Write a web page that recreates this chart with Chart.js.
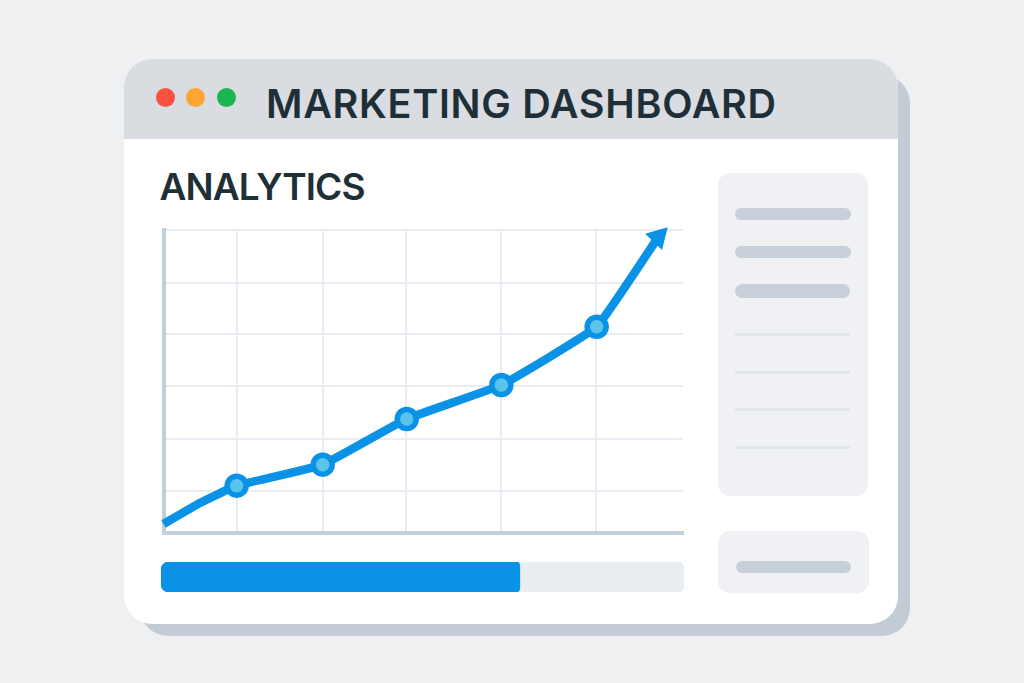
<!DOCTYPE html>
<html>
<head>
<meta charset="utf-8">
<title>Marketing Dashboard</title>
<script src="https://cdn.jsdelivr.net/npm/chart.js@4/dist/chart.umd.min.js"></script>
<style>
  html, body { margin: 0; padding: 0; }
  body { width: 1024px; height: 683px; background: #eff0f2; position: relative; overflow: hidden; font-family: Inter, sans-serif; }
  .box { position: absolute; }
  .shadow { left: 140px; top: 75px; width: 770px; height: 561px; background: #c3ccd5; border-radius: 28px; }
  .win { left: 124px; top: 59px; width: 774px; height: 565px; background: #fff; border-radius: 28px; overflow: hidden; }
  .head { left: 0; top: 0; width: 774px; height: 80px; background: #d9dce1; }
  .dot { width: 19px; height: 19px; border-radius: 50%; top: 88px; }
  .title { left: 266px; top: 80px; font-size: 39.5px; line-height: 48px; font-weight: 600; color: #1f2f38; letter-spacing: 0.7px; white-space: nowrap; }
  .sub { left: 159.5px; top: 165px; font-size: 37px; line-height: 44px; font-weight: 600; color: #1f2f38; letter-spacing: -0.9px; white-space: nowrap; }
  .panel { background: #f0f1f5; border-radius: 12px; }
  .pill { background: #c7d0d9; border-radius: 7px; }
  .thin { background: #e1e6eb; height: 2.5px; left: 735px; width: 115px; }
  canvas { position: absolute; }
</style>
</head>
<body>
<div class="box shadow"></div>
<div class="box win"><div class="box head"></div></div>
<div class="box dot" style="left:156px;background:#fb5140"></div>
<div class="box dot" style="left:186px;background:#fca532"></div>
<div class="box dot" style="left:217px;background:#1bb551"></div>
<div class="box title">MARKETING DASHBOARD</div>
<div class="box sub">ANALYTICS</div>

<div class="box panel" style="left:718px;top:173px;width:150px;height:323px"></div>
<div class="box pill" style="left:735px;top:208px;width:116px;height:12px"></div>
<div class="box pill" style="left:735px;top:246px;width:116px;height:12px"></div>
<div class="box pill" style="left:735px;top:284px;width:115px;height:14px"></div>
<div class="box thin" style="top:333px"></div>
<div class="box thin" style="top:371px"></div>
<div class="box thin" style="top:408px"></div>
<div class="box thin" style="top:446px"></div>
<div class="box panel" style="left:718px;top:531px;width:151px;height:62px"></div>
<div class="box pill" style="left:736px;top:561px;width:115px;height:12px"></div>

<canvas id="lineChart" width="550" height="330" style="left:150px;top:215px"></canvas>
<canvas id="progressChart" width="523" height="30" style="left:161px;top:562px"></canvas>

<script>
const xValues = [0, 0.42, 0.845, 1.839, 2.809, 3.902, 5.003, 5.715];
const yValues = [0.363, 0.765, 1.096, 1.498, 2.373, 3.023, 4.139, 5.856];
const xTicks = [0.845, 1.839, 2.798, 3.902, 4.995];
const yTicks = [1, 1.98, 3, 3.99, 4.98, 6];
const progressDone = [68.6];
const progressLeft = [31.4];

const blue = '#0a92e6';
const markerFill = '#5bc4ea';
const gridColor = '#e8edf3';
const axisColor = '#c3d0dc';

// first two points have no marker, last one is the arrow head
const lastIndex = xValues.length - 1;
const points = xValues.map((x, i) => ({ x: x, y: yValues[i] }));

new Chart(document.getElementById('lineChart'), {
  type: 'line',
  data: {
    datasets: [{
      data: points,
      borderColor: blue,
      borderWidth: 8.5,
      tension: 0.1,
      clip: false,
      pointBackgroundColor: points.map((p, i) => i === lastIndex ? blue : markerFill),
      pointBorderColor: blue,
      pointBorderWidth: points.map((p, i) => i === lastIndex ? 3 : 5.5),
      pointRadius: points.map((p, i) => i < 2 ? 0 : (i === lastIndex ? 10.5 : 9.5)),
      pointStyle: points.map((p, i) => i === lastIndex ? 'triangle' : 'circle'),
      pointRotation: points.map((p, i) => i === lastIndex ? 44 : 0)
    }]
  },
  options: {
    responsive: false,
    animation: false,
    layout: { autoPadding: false, padding: { left: 13.5, right: 17, top: 14.5, bottom: 12 } },
    plugins: { legend: { display: false }, tooltip: { enabled: false } },
    scales: {
      x: {
        type: 'linear',
        min: 0,
        max: 6,
        afterBuildTicks: axis => { axis.ticks = xTicks.map(v => ({ value: v })); },
        ticks: { display: false },
        grid: { color: gridColor, lineWidth: 2, drawTicks: false },
        border: { color: axisColor, width: 4 }
      },
      y: {
        type: 'linear',
        min: 0.19,
        max: 6,
        afterBuildTicks: axis => { axis.ticks = yTicks.map(v => ({ value: v })); },
        ticks: { display: false },
        grid: { color: gridColor, lineWidth: 2, drawTicks: false },
        border: { color: axisColor, width: 4 }
      }
    }
  }
});

new Chart(document.getElementById('progressChart'), {
  type: 'bar',
  data: {
    labels: ['Progress'],
    datasets: [
      { data: progressDone, backgroundColor: blue, borderSkipped: false, borderRadius: { topLeft: 8, bottomLeft: 8, topRight: 4, bottomRight: 4 } },
      { data: progressLeft, backgroundColor: '#e9eef3', borderSkipped: false, borderRadius: { topLeft: 0, bottomLeft: 0, topRight: 6, bottomRight: 6 } }
    ]
  },
  options: {
    indexAxis: 'y',
    responsive: false,
    animation: false,
    barPercentage: 1,
    categoryPercentage: 1,
    plugins: { legend: { display: false }, tooltip: { enabled: false } },
    scales: {
      x: { stacked: true, min: 0, max: 100, display: false },
      y: { stacked: true, display: false }
    }
  }
});
</script>
</body>
</html>
